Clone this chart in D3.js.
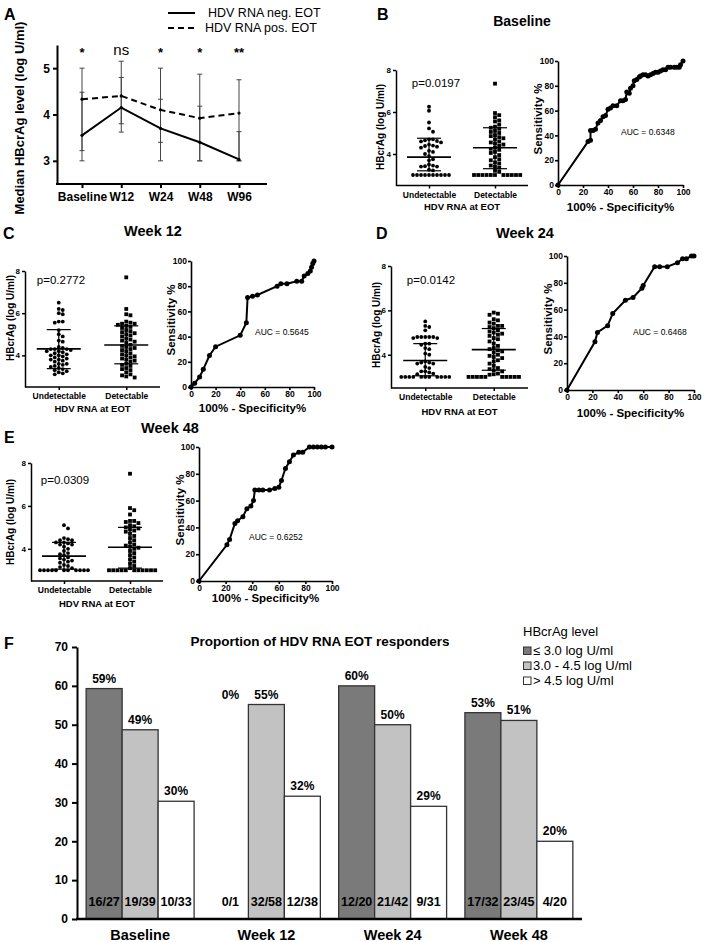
<!DOCTYPE html>
<html>
<head>
<meta charset="utf-8">
<script src="https://cdn.jsdelivr.net/npm/d3@7"></script>
<style>
  body { margin: 0; background: #fff; }
  svg { display: block; font-family: "Liberation Sans", Arial, sans-serif; }
</style>
</head>
<body>
<svg id="fig" width="709" height="942"></svg>
<script>
// ---- panel A: median HBcrAg over time ----
const timepoints = ["Baseline", "W12", "W24", "W48", "W96"];
const negMedian = [3.55, 4.15, 3.7, 3.4, 3.03];
const posMedian = [4.33, 4.4, 4.1, 3.92, 4.03];
const negLow = [3.0, 3.62, 3.0, 3.0, 3.0];
const negHigh = [4.48, 4.8, 4.33, 4.18, 3.63];
const posLow = [3.22, 3.8, 3.4, 3.0, 3.0];
const posHigh = [5.0, 5.15, 5.0, 4.87, 4.75];
const sigLabels = ["*", "ns", "*", "*", "**"];

// ---- scatter panels (undetectable / detectable HDV RNA at EOT) ----
const scatterCats = ["Undetectable", "Detectable"];
const bUndet = [6.25, 6.06, 5.5, 5.22, 5.06, 4.7, 4.7, 4.65, 4.62, 4.6, 4.55, 4.45, 4.4, 4.38, 4.35, 4.3, 4.15, 4.1, 4.0, 3.9, 3.75, 3.7, 3.5, 3.45, 3.42, 3.4, 3.4, 3.25, 3.22, 3.0, 3.0, 3.0, 3.0, 3.0, 3.0, 3.0, 3.0, 3.0, 3.0];
const bDet = [7.35, 5.95, 5.85, 5.75, 5.6, 5.55, 5.4, 5.3, 5.25, 5.2, 5.1, 5.05, 5.0, 4.9, 4.85, 4.8, 4.75, 4.7, 4.6, 4.55, 4.5, 4.45, 4.4, 4.3, 4.25, 4.2, 4.1, 4.05, 3.95, 3.85, 3.75, 3.7, 3.6, 3.55, 3.45, 3.4, 3.35, 3.2, 3.15, 3.0, 3.0, 3.0, 3.0, 3.0, 3.0, 3.0, 3.0, 3.0, 3.0, 3.0];
const bMean = [3.85, 4.3], bSdLo = [3.2, 3.3], bSdHi = [4.75, 5.25];

const cUndet = [6.5, 6.2, 6.15, 6.0, 5.95, 5.6, 5.6, 5.55, 5.2, 5.0, 4.9, 4.7, 4.65, 4.4, 4.35, 4.3, 4.3, 4.3, 4.25, 4.2, 4.2, 4.15, 4.1, 4.05, 4.0, 4.0, 3.95, 3.9, 3.85, 3.8, 3.8, 3.75, 3.7, 3.6, 3.6, 3.55, 3.5, 3.45, 3.4, 3.35, 3.3, 3.25, 3.2, 3.15, 3.1];
const cDet = [7.7, 6.2, 5.95, 5.9, 5.6, 5.55, 5.5, 5.5, 5.45, 5.4, 5.35, 5.3, 5.2, 5.15, 5.1, 5.05, 5.0, 4.95, 4.9, 4.8, 4.75, 4.7, 4.65, 4.6, 4.5, 4.45, 4.4, 4.35, 4.3, 4.25, 4.2, 4.1, 4.05, 4.0, 3.95, 3.9, 3.85, 3.8, 3.75, 3.7, 3.6, 3.55, 3.5, 3.4, 3.35, 3.3, 3.2, 3.1, 3.05, 3.0, 2.95];
const cMean = [4.31, 4.49], cSdLo = [3.37, 3.6], cSdHi = [5.22, 5.4];

const dUndet = [5.5, 5.3, 5.25, 5.1, 4.8, 4.8, 4.8, 4.8, 4.8, 4.75, 4.75, 4.5, 4.5, 4.45, 4.3, 4.25, 4.05, 4.0, 3.7, 3.65, 3.65, 3.6, 3.6, 3.45, 3.4, 3.25, 3.25, 3.2, 3.15, 3.12, 3.0, 3.0, 3.0, 3.0, 3.0, 3.0, 3.0, 3.0, 3.0, 3.0, 3.0];
const dDet = [5.9, 5.85, 5.8, 5.6, 5.55, 5.45, 5.4, 5.3, 5.3, 5.25, 5.2, 5.1, 5.05, 5.0, 4.95, 4.9, 4.85, 4.75, 4.7, 4.6, 4.5, 4.4, 4.3, 4.25, 4.2, 4.15, 4.1, 4.0, 3.95, 3.9, 3.85, 3.75, 3.7, 3.6, 3.5, 3.4, 3.35, 3.3, 3.25, 3.15, 3.12, 3.1, 3.0, 3.0, 3.0, 3.0, 3.0, 3.0, 3.0, 3.0, 3.0, 3.0];
const dMean = [3.74, 4.23], dSdLo = [3.05, 3.3], dSdHi = [4.5, 5.18];

const eUndet = [5.1, 4.95, 4.5, 4.45, 4.4, 4.4, 4.3, 4.3, 4.25, 4.2, 4.2, 4.1, 4.0, 3.9, 3.8, 3.75, 3.7, 3.6, 3.55, 3.5, 3.45, 3.4, 3.35, 3.25, 3.2, 3.15, 3.1, 3.0, 3.0, 3.0, 3.0, 3.0, 3.0, 3.0, 3.0, 3.0, 3.0, 3.0];
const eDet = [7.5, 5.9, 5.8, 5.6, 5.3, 5.3, 5.25, 5.2, 5.1, 5.05, 5.0, 4.95, 4.9, 4.85, 4.8, 4.7, 4.6, 4.5, 4.4, 4.3, 4.2, 4.15, 4.1, 4.05, 4.0, 3.9, 3.8, 3.7, 3.6, 3.5, 3.4, 3.3, 3.2, 3.1, 3.0, 3.0, 3.0, 3.0, 3.0, 3.0, 3.0, 3.0, 3.0, 3.0, 3.0];
const eMean = [3.66, 4.07], eSdLo = [3.05, 3.1], eSdHi = [4.3, 5.0];

// ---- ROC curves ----
const rocTicks = [0, 20, 40, 60, 80, 100];
const bFpr = [0, 24, 26, 26, 28, 30, 32, 34, 36, 38, 40, 42, 44, 47, 50, 52, 54, 55, 57, 58, 60, 61, 63, 65, 66, 68, 70, 72, 74, 76, 78, 80, 82, 84, 86, 88, 90, 93, 95, 97, 98, 100];
const bTpr = [0, 35, 36, 44, 44, 45, 50, 52, 55, 56, 61, 62, 64, 64, 68, 68, 69, 75, 74, 78, 80, 84, 85, 87, 88, 89, 89, 88, 89, 90, 91, 91, 92, 93, 93, 95, 95, 95, 95, 95, 97, 100];
const cFpr = [0, 3, 7, 10, 15, 20, 40, 45, 46, 50, 54, 70, 73, 78, 86, 90, 92, 95, 97, 98, 99, 100];
const cTpr = [0, 3, 8, 14, 25, 32, 41, 51, 71, 72, 73, 80, 82, 82, 84, 84, 88, 90, 92, 95, 98, 100];
const dFpr = [0, 22, 24, 32, 36, 46, 52, 59, 60, 69, 73, 79, 87, 91, 94, 98, 100];
const dTpr = [0, 36, 43, 48, 57, 67, 69, 76, 78, 92, 92, 92, 95, 98, 98, 100, 100];
const eFpr = [0, 21, 23, 27, 29, 33, 36, 39, 41, 42, 45, 48, 53, 57, 60, 62, 65, 68, 71, 75, 78, 83, 86, 89, 92, 95, 100];
const eTpr = [0, 27, 31, 43, 45, 48, 54, 56, 60, 68, 68, 68, 68, 69, 70, 75, 84, 89, 94, 96, 96, 100, 100, 100, 100, 100, 100];

// ---- panel F: responders by HBcrAg level ----
const fGroups = ["Baseline", "Week 12", "Week 24", "Week 48"];
const fLevels = ["≤ 3.0 log U/ml", "3.0 - 4.5 log U/ml", "> 4.5 log U/ml"];
const fLow = [59.3, 0, 60, 53.1];
const fMid = [48.7, 55.2, 50, 51.1];
const fHigh = [30.3, 31.6, 29.0, 20];
const fLowPct = ["59%", "0%", "60%", "53%"];
const fMidPct = ["49%", "55%", "50%", "51%"];
const fHighPct = ["30%", "32%", "29%", "20%"];
const fLowN = ["16/27", "0/1", "12/20", "17/32"];
const fMidN = ["19/39", "32/58", "21/42", "23/45"];
const fHighN = ["10/33", "12/38", "9/31", "4/20"];
const fTicks = [0, 10, 20, 30, 40, 50, 60, 70];

const svg = d3.select("#fig");

function txt(g, x, y, s, size, weight, anchor) {
  return g.append("text").attr("x", x).attr("y", y).text(s)
    .attr("font-size", size).attr("font-weight", weight || "normal")
    .attr("text-anchor", anchor || "start").attr("fill", "#000");
}

function styleAxis(sel, size, width) {
  sel.selectAll("path").attr("stroke", "#000").attr("stroke-width", width);
  sel.selectAll("line").attr("stroke", "#000").attr("stroke-width", width);
  sel.selectAll("text").attr("font-size", size).attr("font-weight", "bold")
    .attr("font-family", "Liberation Sans, Arial, sans-serif").attr("fill", "#000");
}

// panel letters
[["A", 4, 20], ["B", 377, 20], ["C", 3, 239], ["D", 376, 239], ["E", 4, 443], ["F", 4, 649]]
  .forEach(d => txt(svg, d[1], d[2], d[0], 16, "bold"));

// ================= A =================
const gA = svg.append("g");
const ax = d3.scalePoint().domain(timepoints).range([82, 239]);
const ay = d3.scaleLinear().domain([2.5, 5.5]).range([184, 45]);

const yAxA = gA.append("g").attr("transform", "translate(57,0)")
  .call(d3.axisLeft(ay).tickValues([3, 4, 5]).tickFormat(d3.format("d")).tickSize(4).tickSizeOuter(0).tickPadding(3));
styleAxis(yAxA, 12, 2);
gA.append("line").attr("x1", 56).attr("x2", 267).attr("y1", 184).attr("y2", 184)
  .attr("stroke", "#000").attr("stroke-width", 2);
const xAxA = gA.append("g").attr("transform", "translate(0,184)")
  .call(d3.axisBottom(ax).tickSize(4).tickPadding(4));
xAxA.select(".domain").remove();
styleAxis(xAxA, 12, 2);

txt(gA, 0, 0, "Median HBcrAg level (log U/ml)", 13, "bold", "middle")
  .attr("transform", "translate(24,118) rotate(-90)");

// error bars (drawn first, thin grey-black)
function errBars(lo, hi) {
  timepoints.forEach((t, i) => {
    const x = ax(t);
    gA.append("line").attr("x1", x).attr("x2", x).attr("y1", ay(lo[i])).attr("y2", ay(hi[i]))
      .attr("stroke", "#444").attr("stroke-width", 1);
    [lo[i], hi[i]].forEach(v => gA.append("line").attr("x1", x - 2.5).attr("x2", x + 2.5)
      .attr("y1", ay(v)).attr("y2", ay(v)).attr("stroke", "#444").attr("stroke-width", 1));
  });
}
errBars(negLow, negHigh);
errBars(posLow, posHigh);

const lineA = d3.line().x((d, i) => ax(timepoints[i])).y(d => ay(d));
gA.append("path").datum(negMedian).attr("d", lineA).attr("fill", "none")
  .attr("stroke", "#000").attr("stroke-width", 2);
gA.append("path").datum(posMedian).attr("d", lineA).attr("fill", "none")
  .attr("stroke", "#000").attr("stroke-width", 2).attr("stroke-dasharray", "6,4");
[negMedian, posMedian].forEach(arr => arr.forEach((v, i) =>
  gA.append("circle").attr("cx", ax(timepoints[i])).attr("cy", ay(v)).attr("r", 1.6).attr("fill", "#000")));

sigLabels.forEach((s, i) => {
  if (s === "ns") txt(gA, ax(timepoints[i]), 55, s, 15, "normal", "middle");
  else txt(gA, ax(timepoints[i]), 57, s, 13, "bold", "middle");
});

// legend A
gA.append("line").attr("x1", 168).attr("x2", 195).attr("y1", 13).attr("y2", 13)
  .attr("stroke", "#000").attr("stroke-width", 2);
gA.append("line").attr("x1", 168).attr("x2", 195).attr("y1", 28).attr("y2", 28)
  .attr("stroke", "#000").attr("stroke-width", 2).attr("stroke-dasharray", "6,4");
txt(gA, 208, 17, "HDV RNA neg. EOT", 12.5);
txt(gA, 205, 32, "HDV RNA pos. EOT", 12.5);

// ================= scatter helper =================
// beeswarm: try centre, then right/left alternately until the point
// does not sit in the same horizontal "row" box as one already placed
function swarm(values, y, cx, dist, rowH) {
  const placed = [];
  values.forEach(v => {
    const py = y(v);
    let k = 0, px;
    while (true) {
      px = cx + (k === 0 ? 0 : (k % 2 ? 1 : -1) * Math.ceil(k / 2) * dist);
      if (!placed.some(p => Math.abs(p.x - px) < dist - 0.05 && Math.abs(p.y - py) < rowH)) break;
      k++;
    }
    placed.push({ x: px, y: py });
  });
  return placed;
}

function drawScatter(L, undet, det, mean, sdLo, sdHi, pLabel) {
  const g = svg.append("g");
  const x = d3.scalePoint().domain(scatterCats).range([L.x0, L.x1]).padding(0.5);
  const y = d3.scaleLinear().domain([2.5, 8]).range([L.yb, L.yt]);

  const yAx = g.append("g").attr("transform", `translate(${L.x0},0)`)
    .call(d3.axisLeft(y).tickValues([4, 6, 8]).tickFormat(d3.format("d")).tickSize(3).tickSizeOuter(0).tickPadding(2));
  styleAxis(yAx, 8, 1.5);
  const xAx = g.append("g").attr("transform", `translate(0,${L.yb})`)
    .call(d3.axisBottom(x).tickSize(3).tickSizeOuter(0).tickPadding(3));
  xAx.select(".domain").attr("d", `M${L.x0},0H${L.x1}`);
  styleAxis(xAx, 8.5, 1.5);

  txt(g, (L.x0 + L.x1) / 2, L.eotY, "HDV RNA at EOT", 9.5, "bold", "middle");
  txt(g, 0, 0, "HBcrAg (log U/ml)", 10, "bold", "middle")
    .attr("transform", `translate(${L.tx},${L.ty}) rotate(-90)`);
  txt(g, L.px, L.py, pLabel, 11.5, "normal", "middle");

  swarm(undet, y, x(scatterCats[0]), 4.0, 3.5).forEach(p =>
    g.append("circle").attr("cx", p.x).attr("cy", p.y).attr("r", 1.9).attr("fill", "#000"));
  swarm(det, y, x(scatterCats[1]), 4.2, 3.5).forEach(p =>
    g.append("rect").attr("x", p.x - 1.9).attr("y", p.y - 1.9).attr("width", 3.8).attr("height", 3.8).attr("fill", "#000"));

  scatterCats.forEach((c, i) => {
    const cx = x(c);
    g.append("line").attr("x1", cx).attr("x2", cx).attr("y1", y(sdLo[i])).attr("y2", y(sdHi[i]))
      .attr("stroke", "#000").attr("stroke-width", 1.2);
    [sdLo[i], sdHi[i]].forEach(v => g.append("line").attr("x1", cx - 12).attr("x2", cx + 12)
      .attr("y1", y(v)).attr("y2", y(v)).attr("stroke", "#000").attr("stroke-width", 1.2));
    g.append("line").attr("x1", cx - 22).attr("x2", cx + 22).attr("y1", y(mean[i])).attr("y2", y(mean[i]))
      .attr("stroke", "#000").attr("stroke-width", 1.6);
  });
}

function drawRoc(L, fpr, tpr, auc) {
  const g = svg.append("g");
  const x = d3.scaleLinear().domain([0, 100]).range([L.x0, L.x1]);
  const y = d3.scaleLinear().domain([0, 100]).range([L.y0, L.y1]);
  const xAx = g.append("g").attr("transform", `translate(0,${L.y0})`)
    .call(d3.axisBottom(x).tickValues(rocTicks).tickSize(3).tickSizeOuter(0).tickPadding(1));
  styleAxis(xAx, 8.5, 1.6);
  const yAx = g.append("g").attr("transform", `translate(${L.x0},0)`)
    .call(d3.axisLeft(y).tickValues(rocTicks).tickSize(3).tickSizeOuter(0).tickPadding(1));
  styleAxis(yAx, 8.5, 1.6);

  txt(g, 0, 0, "Sensitivity %", 11.5, "bold", "middle")
    .attr("transform", `translate(${L.sx},${(L.y0 + L.y1) / 2 - 4}) rotate(-90)`);
  txt(g, (L.x0 + L.x1) / 2, L.specY, "100% - Specificity%", 11.5, "bold", "middle");
  txt(g, L.ax, L.ay, auc, 8.5);

  const pts = fpr.map((f, i) => [x(f), y(tpr[i])]);
  g.append("path").datum(pts).attr("d", d3.line()).attr("fill", "none")
    .attr("stroke", "#000").attr("stroke-width", 2);
  pts.forEach(p => g.append("circle").attr("cx", p[0]).attr("cy", p[1]).attr("r", 2.5).attr("fill", "#000"));
}

// ================= B =================
txt(svg, 522, 26, "Baseline", 14, "bold", "middle");
drawScatter({ x0: 396, x1: 528, yt: 70, yb: 185.5, eotY: 210, tx: 384, ty: 127, px: 436, py: 87 },
  bUndet, bDet, bMean, bSdLo, bSdHi, "p=0.0197");
drawRoc({ x0: 558, x1: 683, y0: 185, y1: 61, sx: 542, specY: 211, ax: 621, ay: 135 },
  bFpr, bTpr, "AUC = 0.6348");

// ================= C =================
txt(svg, 153, 236, "Week 12", 14.5, "bold", "middle");
drawScatter({ x0: 25, x1: 160, yt: 271, yb: 387, eotY: 412, tx: 14, ty: 318, px: 61, py: 284 },
  cUndet, cDet, cMean, cSdLo, cSdHi, "p=0.2772");
drawRoc({ x0: 191, x1: 314, y0: 387, y1: 261, sx: 175, specY: 412, ax: 255, ay: 335 },
  cFpr, cTpr, "AUC = 0.5645");

// ================= D =================
txt(svg, 525, 238, "Week 24", 14.5, "bold", "middle");
drawScatter({ x0: 391, x1: 528, yt: 266, yb: 388, eotY: 415, tx: 380, ty: 325, px: 431, py: 284 },
  dUndet, dDet, dMean, dSdLo, dSdHi, "p=0.0142");
drawRoc({ x0: 567, x1: 694, y0: 390, y1: 256, sx: 552, specY: 417, ax: 633, ay: 335 },
  dFpr, dTpr, "AUC = 0.6468");

// ================= E =================
txt(svg, 170, 433, "Week 48", 14.5, "bold", "middle");
drawScatter({ x0: 31, x1: 163, yt: 463, yb: 581, eotY: 607, tx: 14, ty: 522, px: 65, py: 484 },
  eUndet, eDet, eMean, eSdLo, eSdHi, "p=0.0309");
drawRoc({ x0: 199, x1: 332, y0: 581, y1: 447, sx: 184, specY: 602, ax: 249, ay: 540 },
  eFpr, eTpr, "AUC = 0.6252");

// ================= F =================
const gF = svg.append("g");
const fx = d3.scaleBand().domain(fGroups).range([77, 582]).paddingInner(0.145).paddingOuter(0.0725);
const fy = d3.scaleLinear().domain([0, 70]).range([919, 647]);
const fSub = d3.scaleBand().domain([0, 1, 2]).range([0, fx.bandwidth()]);
const fFill = ["#7a7a7a", "#c2c2c2", "#ffffff"];
const fVals = [fLow, fMid, fHigh];
const fPcts = [fLowPct, fMidPct, fHighPct];
const fNs = [fLowN, fMidN, fHighN];

txt(gF, 320, 646, "Proportion of HDV RNA EOT responders", 13.5, "bold", "middle");

const fyAx = gF.append("g").attr("transform", "translate(77,0)")
  .call(d3.axisLeft(fy).tickValues(fTicks).tickSize(5).tickSizeOuter(0).tickPadding(4));
styleAxis(fyAx, 12, 2);

fGroups.forEach((grp, gi) => {
  [0, 1, 2].forEach(k => {
    const v = fVals[k][gi];
    const bx = fx(grp) + fSub(k);
    const bw = fSub.bandwidth();
    if (v > 0) {
      gF.append("rect").attr("x", bx).attr("y", fy(v)).attr("width", bw).attr("height", fy(0) - fy(v))
        .attr("fill", fFill[k]).attr("stroke", "#333").attr("stroke-width", 1.3);
    }
    // a zero bar gets its label level with the tallest bar of its group
    const ly = v > 0 ? fy(v) - 6 : fy(d3.max(fVals, a => a[gi])) - 6;
    txt(gF, bx + bw / 2, ly, fPcts[k][gi], 12, "bold", "middle");
    txt(gF, bx + bw / 2, fy(0) - 13, fNs[k][gi], 12.5, "bold", "middle");
  });
  txt(gF, fx(grp) + fx.bandwidth() / 2, 940, grp, 14.5, "bold", "middle");
});
gF.append("line").attr("x1", 76).attr("x2", 582).attr("y1", fy(0)).attr("y2", fy(0))
  .attr("stroke", "#000").attr("stroke-width", 2.5);

// legend F
txt(gF, 523, 636, "HBcrAg level", 13);
fLevels.forEach((lab, k) => {
  const yy = 655 + k * 15;
  gF.append("rect").attr("x", 523.5).attr("y", yy - 8).attr("width", 7.5).attr("height", 7.5)
    .attr("fill", fFill[k]).attr("stroke", "#333").attr("stroke-width", 1);
  txt(gF, 533, yy, lab, 13);
});
</script>
</body>
</html>
